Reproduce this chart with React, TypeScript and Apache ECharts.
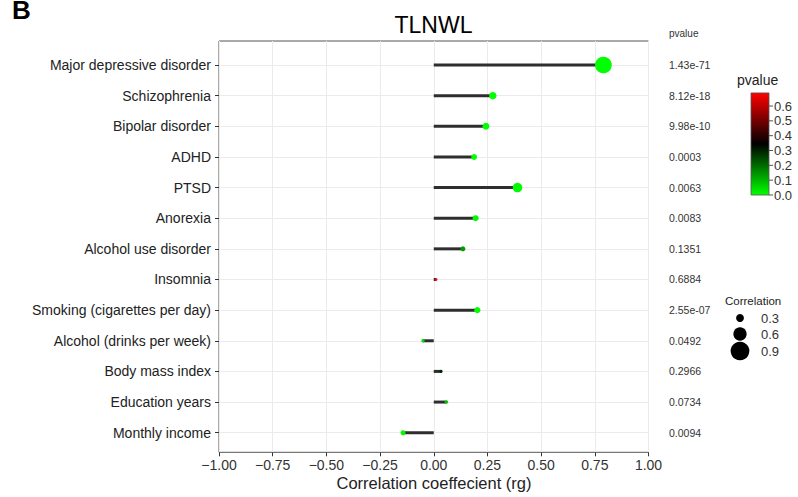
import React, { useEffect, useRef } from "react";
import * as echarts from "echarts";

const categories = [
  "Major depressive disorder",
  "Schizophrenia",
  "Bipolar disorder",
  "ADHD",
  "PTSD",
  "Anorexia",
  "Alcohol use disorder",
  "Insomnia",
  "Smoking (cigarettes per day)",
  "Alcohol (drinks per week)",
  "Body mass index",
  "Education years",
  "Monthly income",
];
const rg = [0.79, 0.275, 0.243, 0.188, 0.39, 0.195, 0.136, 0.011, 0.203, -0.05, 0.034, 0.059, -0.143];
const pvalueLabels = [
  "1.43e-71",
  "8.12e-18",
  "9.98e-10",
  "0.0003",
  "0.0063",
  "0.0083",
  "0.1351",
  "0.6884",
  "2.55e-07",
  "0.0492",
  "0.2966",
  "0.0734",
  "0.0094",
];
const pvalues = pvalueLabels.map((s) => parseFloat(s));
const pMax = Math.max(...pvalues);
const colorbarTicks = [0.0, 0.1, 0.2, 0.3, 0.4, 0.5, 0.6];
const sizeLegend = [0.3, 0.6, 0.9];

const FONT = "'Liberation Sans', Arial, Helvetica, sans-serif";
const sizeOf = (r: number) => 2.5 + 18 * Math.abs(r);

export default function App() {
  const ref = useRef<HTMLDivElement>(null);
  useEffect(() => {
    if (!ref.current) return;
    const chart = echarts.init(ref.current, null, { renderer: "svg" });

    // colorbar geometry
    const cbX = 751, cbW = 18, cbBottom = 195, cbPerUnit = 148.3;
    const cbTop = cbBottom - pMax * cbPerUnit;

    const graphics: any[] = [
      { type: "text", left: 12, top: -3, style: { text: "B", font: `bold 26px ${FONT}`, fill: "#000" } },
      {
        type: "text", x: 433.5, y: 25,
        style: { text: "TLNWL", font: `23px ${FONT}`, fill: "#000", align: "center", verticalAlign: "middle" },
      },
      {
        type: "text", x: 434, y: 483,
        style: { text: "Correlation coeffecient (rg)", font: `16.5px ${FONT}`, fill: "#222", align: "center", verticalAlign: "middle" },
      },
      {
        type: "text", x: 669, y: 33,
        style: { text: "pvalue", font: `10px ${FONT}`, fill: "#333", align: "left", verticalAlign: "middle" },
      },
      // colorbar title
      {
        type: "text", x: 737, y: 80,
        style: { text: "pvalue", font: `14px ${FONT}`, fill: "#222", align: "left", verticalAlign: "middle" },
      },
      {
        type: "rect",
        shape: { x: cbX, y: cbTop, width: cbW, height: cbBottom - cbTop },
        style: {
          fill: new echarts.graphic.LinearGradient(0, 1, 0, 0, [
            { offset: 0, color: "#00ff00" },
            { offset: 0.5, color: "#000000" },
            { offset: 1, color: "#ff0000" },
          ]),
          stroke: "#555",
          lineWidth: 0.8,
        },
      },
      // size legend title
      {
        type: "text", x: 725, y: 301,
        style: { text: "Correlation", font: `11.5px ${FONT}`, fill: "#222", align: "left", verticalAlign: "middle" },
      },
    ];
    colorbarTicks.forEach((t) => {
      const y = cbBottom - t * cbPerUnit;
      graphics.push({
        type: "line",
        shape: { x1: cbX + cbW, y1: y, x2: cbX + cbW + 4, y2: y },
        style: { stroke: "#555", lineWidth: 1 },
      });
      graphics.push({
        type: "text", x: cbX + cbW + 5, y,
        style: { text: t.toFixed(1), font: `13px ${FONT}`, fill: "#333", align: "left", verticalAlign: "middle" },
      });
    });
    const legendY = [318, 334, 351];
    sizeLegend.forEach((v, i) => {
      graphics.push({
        type: "circle",
        shape: { cx: 740, cy: legendY[i], r: sizeOf(v) / 2 },
        style: { fill: "#000" },
      });
      graphics.push({
        type: "text", x: 761, y: legendY[i],
        style: { text: v.toFixed(1), font: `13px ${FONT}`, fill: "#333", align: "left", verticalAlign: "middle" },
      });
    });

    const option: any = {
      animation: false,
      backgroundColor: "#fff",
      textStyle: { fontFamily: FONT },
      grid: [
        { left: 219, right: 149.5, top: 41, bottom: 44.7, show: true, borderColor: "#555", borderWidth: 1, backgroundColor: "transparent" },
        { left: 219, right: 149.5, top: 65, bottom: 64.3 },
      ],
      xAxis: [
        {
          type: "value", gridIndex: 0, min: -1, max: 1, interval: 0.25,
          axisLine: { show: false, onZero: false },
          axisTick: { show: true, length: 4, lineStyle: { color: "#333" } },
          axisLabel: {
            margin: 6, fontSize: 14, color: "#333", fontFamily: FONT,
            formatter: (v: number) => v.toFixed(2).replace("-", "\u2212"),
          },
          splitLine: { show: true, lineStyle: { color: "#ebebeb", width: 1 } },
        },
        { type: "value", gridIndex: 1, min: -1, max: 1, show: false, axisLine: { onZero: false } },
      ],
      yAxis: [
        { type: "value", gridIndex: 0, show: false, axisLine: { onZero: false } },
        {
          type: "category", gridIndex: 1, data: categories, inverse: true, boundaryGap: false, position: "left",
          axisLine: { show: false, onZero: false },
          axisTick: { show: true, length: 4, lineStyle: { color: "#333" } },
          axisLabel: { margin: 8, fontSize: 14, color: "#222", fontFamily: FONT, interval: 0 },
          splitLine: { show: true, lineStyle: { color: "#ebebeb", width: 1 } },
        },
        {
          type: "category", gridIndex: 1, data: pvalueLabels, inverse: true, boundaryGap: false, position: "right",
          axisLine: { show: false, onZero: false }, axisTick: { show: false },
          axisLabel: { margin: 20.5, fontSize: 10.5, color: "#333", fontFamily: FONT, interval: 0 },
          splitLine: { show: false },
        },
      ],
      visualMap: {
        show: false, type: "continuous", min: 0, max: pMax, dimension: 2, seriesIndex: 1,
        inRange: { color: ["#00ff00", "#000000", "#ff0000"] },
      },
      series: [
        {
          type: "custom", xAxisIndex: 1, yAxisIndex: 1,
          data: rg.map((v, i) => [v, i]),
          renderItem: (params: any, api: any) => {
            const p0 = api.coord([0, api.value(1)]);
            const p1 = api.coord([api.value(0), api.value(1)]);
            const x = Math.min(p0[0], p1[0]);
            const w = Math.abs(p1[0] - p0[0]);
            return {
              type: "rect",
              shape: { x, y: p0[1] - 1.5, width: w, height: 3 },
              style: { fill: "#2e2e2e" },
            };
          },
          z: 2,
        },
        {
          type: "scatter", xAxisIndex: 1, yAxisIndex: 1,
          data: rg.map((v, i) => [v, i, pvalues[i]]),
          symbolSize: (d: number[]) => sizeOf(d[0]),
          itemStyle: { opacity: 1 },
          z: 3,
        },
      ],
      graphic: graphics,
    };
    chart.setOption(option);
    return () => chart.dispose();
  }, []);
  return <div ref={ref} style={{ position: "fixed", left: 0, top: 0, width: 798, height: 497 }} />;
}
